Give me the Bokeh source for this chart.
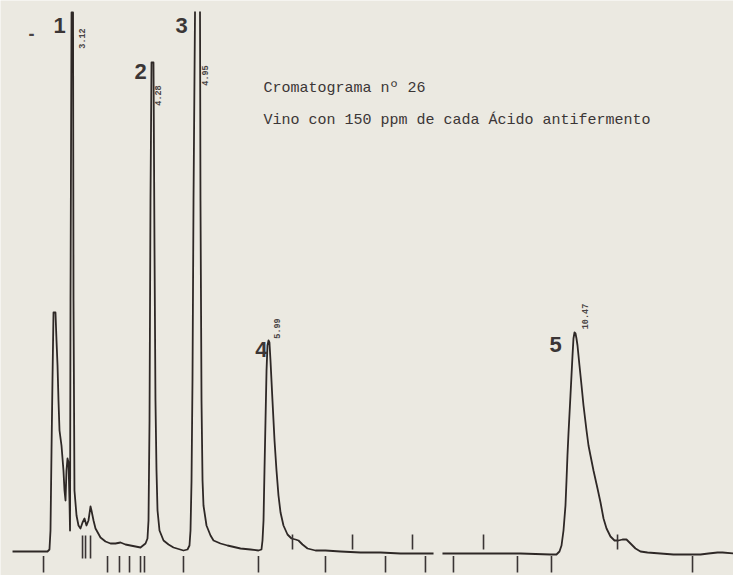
import math
import numpy as np
from bokeh.plotting import figure
from bokeh.models import ColumnDataSource, Range1d
from bokeh.core.properties import value
from bokeh.embed import file_html
from bokeh.resources import INLINE

nan = float("nan")

# --- detector trace (retention time in min, signal in arbitrary units) ---
time_min = [2.242, 2.754, 2.783, 2.798, 2.813, 2.827, 2.842, 2.871, 2.886, 2.901,
            2.915, 2.930, 2.959, 2.988, 3.003, 3.018, 3.032, 3.047, 3.062, 3.076,
            3.084, 3.091, 3.106, 3.128, 3.135, 3.149, 3.179, 3.208, 3.237, 3.267,
            3.296, 3.325, 3.354, 3.384, 3.398, 3.428, 3.457, 3.530, 3.603, 3.677,
            3.750, 3.823, 3.896, 3.969, 4.043, 4.116, 4.189, 4.218, 4.233, 4.248,
            4.262, 4.277, 4.306, 4.321, 4.335, 4.350, 4.365, 4.394, 4.453, 4.526,
            4.599, 4.745, 4.804, 4.833, 4.848, 4.863, 4.877, 4.892, 4.914, nan,
            4.987, 4.994, 5.009, 5.024, 5.038, 5.082, 5.141, 5.185, 5.287, 5.390,
            5.580, 5.726, 5.843, 5.887, 5.902, 5.917, 5.931, 5.946, 5.961, 5.975,
            5.990, 6.004, 6.019, 6.048, 6.078, 6.107, 6.136, 6.166, 6.209, 6.268,
            6.327, 6.385, 6.429, 6.488, 6.561, 6.678, 6.824, 7.044, 7.337, 7.630,
            7.922, 8.406, nan, 8.537, 9.094, 9.679, 10.119, 10.206, 10.250, 10.280,
            10.309, 10.338, 10.353, 10.367, 10.382, 10.411, 10.426, 10.441, 10.455, 10.470,
            10.485, 10.499, 10.514, 10.543, 10.573, 10.602, 10.646, 10.675, 10.704, 10.748,
            10.807, 10.851, 10.895, 10.939, 10.997, 11.056, 11.114, 11.173, 11.231, 11.290,
            11.363, 11.436, 11.539, 11.729, 11.919, 12.168, 12.315, 12.432, 12.564, 12.637,
            12.798]
signal = [0.0, 0.0, 0.4, 4.2, 20.2, 34.2, 47.8, 47.8, 42.2, 37.2,
          30.2, 24.2, 21.2, 16.2, 12.2, 10.2, 16.2, 18.6, 17.8, 10.2,
          4.2, 50.2, 107.8, 107.8, 50.2, 12.2, 7.2, 5.2, 4.6, 5.8,
          6.6, 5.2, 6.2, 9.0, 8.2, 6.2, 4.6, 2.8, 2.0, 1.6,
          1.6, 1.8, 1.4, 1.2, 1.0, 0.8, 1.6, 2.6, 6.2, 26.2,
          70.2, 97.8, 97.8, 60.2, 30.2, 16.2, 8.2, 4.2, 2.2, 1.4,
          0.8, 0.2, 0.4, 1.2, 4.2, 14.2, 34.2, 70.2, 108.0, nan,
          108.0, 70.2, 30.2, 14.2, 9.2, 5.2, 3.2, 2.2, 1.6, 1.2,
          0.6, 0.4, 0.2, 0.4, 2.2, 6.2, 16.2, 26.2, 36.2, 41.2,
          42.2, 41.8, 38.2, 30.2, 22.2, 16.2, 11.2, 7.8, 5.2, 3.4,
          2.6, 2.4, 2.2, 1.4, 0.6, 0.2, 0.2, 0.0, -0.2, -0.2,
          -0.4, -0.4, nan, -0.4, -0.4, -0.4, -0.6, -0.6, 0.0, 1.2,
          4.2, 9.2, 14.2, 19.2, 23.6, 31.2, 35.2, 39.2, 42.6, 43.8,
          43.6, 42.6, 41.2, 37.2, 33.2, 29.2, 24.2, 21.2, 19.2, 16.2,
          12.6, 9.8, 6.6, 4.6, 3.0, 2.2, 2.2, 2.4, 2.4, 1.6,
          0.6, 0.0, -0.2, -0.4, -0.6, -0.6, -0.6, -0.4, -0.2, -0.2,
          -0.4]

# --- integrator event marks (min) ---
marks_below = [2.696, 3.633, 3.808, 3.955, 4.116, 4.174, 4.745, 5.843, 6.824,
               7.703, 8.288, 8.698, 9.635, 10.133, 12.198]
marks_cluster = [3.267, 3.311, 3.384]
marks_above = [6.341, 7.220, 8.098, 9.138, 11.100]

# --- peak numbers and printed retention times ---
peak_names = ["1", "2", "3", "4", "5"]
peak_name_t = [2.930, 4.116, 4.716, 5.887, 10.192]
peak_name_s = [105.2, 96.0, 105.2, 40.4, 41.4]
rt_labels = ["3.12", "4.28", "4.95", "5.99", "10.47"]
rt_t = [3.252, 4.379, 5.067, 6.107, 10.631]
rt_s = [102.6, 91.2, 95.2, 44.6, 47.0]

title_lines = ["Cromatograma nº 26", "Vino con 150 ppm de cada Ácido antifermento"]
title_t = [5.917, 5.917]
title_s = [92.6, 86.2]

BG = "#ebe9e1"
INK = "#2e2826"

p = figure(width=733, height=575, output_backend="svg", toolbar_location=None,
           x_range=Range1d(2.066, 12.798), y_range=Range1d(-4.8, 110.2),
           min_border=0, min_border_left=0, min_border_right=0,
           min_border_top=0, min_border_bottom=0)
p.axis.visible = False
p.xgrid.visible = False
p.ygrid.visible = False
p.outline_line_color = None
p.background_fill_color = BG
p.border_fill_color = BG

p.line(time_min, signal, line_color=INK, line_width=1.8, line_join="round")

p.segment(x0=marks_below, y0=[-0.9] * len(marks_below), x1=marks_below,
          y1=[-4.2] * len(marks_below), line_color="#3a3434", line_width=1.6)
p.segment(x0=marks_cluster, y0=[3.2] * len(marks_cluster), x1=marks_cluster,
          y1=[-1.4] * len(marks_cluster), line_color="#3a3434", line_width=1.6)
p.segment(x0=marks_above, y0=[3.4] * len(marks_above), x1=marks_above,
          y1=[0.4] * len(marks_above), line_color="#3a3434", line_width=1.6)

p.text(x=peak_name_t, y=peak_name_s, text=peak_names,
       text_font=value("Liberation Sans"), text_font_style="bold",
       text_font_size="22px", text_color="#3b3636",
       text_align="center", text_baseline="middle")
p.text(x=[2.520], y=[103.6], text=["-"],
       text_font=value("Liberation Sans"), text_font_style="bold",
       text_font_size="18px", text_color="#4a4444",
       text_align="center", text_baseline="middle")
p.text(x=rt_t, y=rt_s, text=rt_labels, angle=math.pi / 2,
       text_font=value("Liberation Mono"), text_font_style="bold",
       text_font_size="8.5px", text_color="#4a4444",
       text_align="center", text_baseline="middle")
p.text(x=title_t, y=title_s, text=title_lines,
       text_font=value("Liberation Mono"), text_font_size="15px",
       text_color="#3b3636", text_align="left", text_baseline="middle")

open("out.html", "w").write(file_html(p, INLINE))
